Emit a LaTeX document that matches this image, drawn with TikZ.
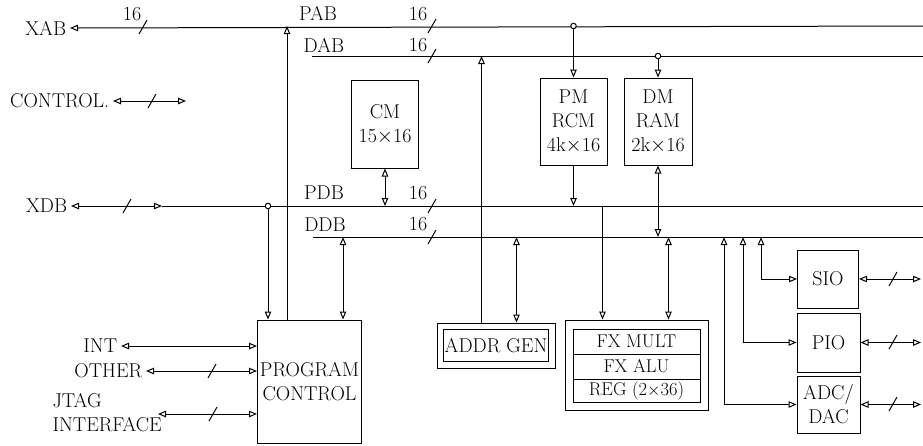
\documentclass[tikz,border=0pt]{standalone}
\usetikzlibrary{arrows.meta,positioning}
\begin{document}
\begin{tikzpicture}[x=1pt,y=-1pt,line width=1pt,font=\fontsize{20}{24}\selectfont,
  >={Triangle[open,length=8pt,width=6.5pt]},
  blk/.style={draw,align=center,inner sep=0pt},
  row/.style={inner sep=0pt,font=\fontsize{18.5}{22}\selectfont},
  dot/.style={draw,fill=white,circle,inner sep=0pt,minimum size=5.5pt}]
\useasboundingbox (0,0) rectangle (923,445);
% bus ends
\coordinate (pabR) at (923,26);
\coordinate (dabL) at (312,56); \coordinate (dabR) at (923,56);
\coordinate (pdbL) at (162,206); \coordinate (pdbR) at (923,206);
\coordinate (ddbL) at (313,237); \coordinate (ddbR) at (923,237);
\coordinate (edgeR) at (921,0);
% blocks
\node[blk,minimum width=67pt,minimum height=88pt] (cm) at (385,124) {CM\\15$\times$16};
\node[blk,minimum width=67pt,minimum height=87pt] (pm) at (573.5,121.5) {PM\\RCM\\4k$\times$16};
\node[blk,minimum width=68pt,minimum height=87pt] (dm) at (658,121.5) {DM\\RAM\\2k$\times$16};
\node[blk,minimum width=104pt,minimum height=123pt] (pc) at (309.5,381.5) {PROGRAM\\CONTROL};
\node[blk,minimum width=118pt,minimum height=45pt] (ag) at (496,345.5) {ADDR GEN};
\draw ([xshift=7pt,yshift=-7pt]ag.north west) rectangle ([xshift=-7pt,yshift=7pt]ag.south east);
\node[blk,minimum width=143pt,minimum height=90pt] (fx) at (636.5,365) {};
\draw (573,329) rectangle (700,402);
\draw (573,354) -- (700,354);
\draw (573,379) -- (700,379);
\node[row] (fxm) at (636.5,341) {FX MULT};
\node[row] (fxa) at (636.5,366) {FX ALU};
\node[row] (reg) at (636.5,391) {REG (2$\times$36)};
\node[blk,minimum width=61pt,minimum height=58pt] (sio) at (828,279) {SIO};
\node[blk,minimum width=63pt,minimum height=59pt] (pio) at (828.5,342.5) {PIO};
\node[blk,minimum width=63pt,minimum height=57pt] (adc) at (828.5,404.5) {ADC/\\DAC};
% labels
\node[anchor=east] (xab) at (70,28) {XAB};
\node[anchor=east] (ctl) at (113,101) {CONTROL.};
\node[anchor=east] (xdb) at (71,206) {XDB};
\node[anchor=east] (int) at (121,346) {INT};
\node[anchor=east] (oth) at (146,371) {OTHER};
\node[anchor=north west,align=left,inner sep=0pt] (jtag) at (52,393) {JTAG\\INTERFACE};
\node (pab) at (318,13) {PAB};
\node (dab) at (324,45) {DAB};
\node (pdb) at (324,193) {PDB};
\node (ddb) at (325,225) {DDB};
\foreach \n/\x/\y in {a/132/14,b/418/14,c/418/45,d/418/193,e/418/224}
  \node (w\n) at (\x,\y) {16};
% buses
\draw[->] (pabR) -- (xab.east);
\draw (dabL) -- (dabR);
\draw[<->] (xdb.east) -- (pdbL);
\draw (pdbL) -- (pdbR);
\draw (ddbL) -- (ddbR);
\coordinate (ctlR) at (186,101);
\draw[<->] (ctl.east) -- (ctlR);
% program control
\coordinate (pcA) at ([xshift=11pt]pc.north west);
\coordinate (pcB) at ([xshift=30pt]pc.north west);
\coordinate (pcC) at ([xshift=86pt]pc.north west);
\draw[->] (pcA |- pdbR) -- (pcA);
\draw[->] (pcB) -- (pcB |- pabR);
\draw[<->] (pcC |- ddbR) -- (pcC);
\draw[<->] (int.east) -- (int.east -| pc.west);
\draw[<->] (oth.east) -- (oth.east -| pc.west);
\coordinate (jtagA) at (158,414);
\draw[<->] (jtagA) -- (jtagA -| pc.west);
% memories
\draw[->] (pm.north |- pabR) -- (pm.north);
\draw[->] (dm.north |- dabR) -- (dm.north);
\draw[<->] (cm.south) -- (cm.south |- pdbR);
\draw[->] (pm.south) -- (pm.south |- pdbR);
\draw[<->] (dm.south) -- (dm.south |- ddbR);
% addr gen and fx
\coordinate (agA) at ([xshift=45pt]ag.north west);
\coordinate (agB) at ([xshift=80pt]ag.north west);
\draw[->] (agA) -- (agA |- dabR);
\draw[<->] (agB |- ddbR) -- (agB);
\coordinate (fxA) at ([xshift=38pt]fx.north west);
\coordinate (fxB) at ([xshift=104pt]fx.north west);
\draw[->] (fxA |- pdbR) -- (fxA);
\draw[<->] (fxB |- ddbR) -- (fxB);
% i/o
\coordinate (tS) at (761,237);
\coordinate (tP) at (743,237);
\coordinate (tA) at (724,237);
\draw[<->] (tS) |- (sio.west);
\draw[<->] (tP) |- (pio.west);
\draw[<->] (tA) |- (adc.west);
\draw[<->] (sio.east) -- (sio.east -| edgeR);
\draw[<->] (pio.east) -- (pio.east -| edgeR);
\draw[<->] (adc.east) -- (adc.east -| edgeR);
% width marks
\foreach \x/\y in {143/27,432/26,432/56,127/206,432/206,432/237,152/101,212/371,213/414,893/279,893/342,893/404}
  \draw (\x-4,\y+7) -- (\x+4,\y-7);
% junctions
\node[dot] (j1) at (pm.north |- pabR) {};
\node[dot] (j2) at (dm.north |- dabR) {};
\node[dot] (j3) at (pcA |- pdbR) {};
\end{tikzpicture}
\end{document}
